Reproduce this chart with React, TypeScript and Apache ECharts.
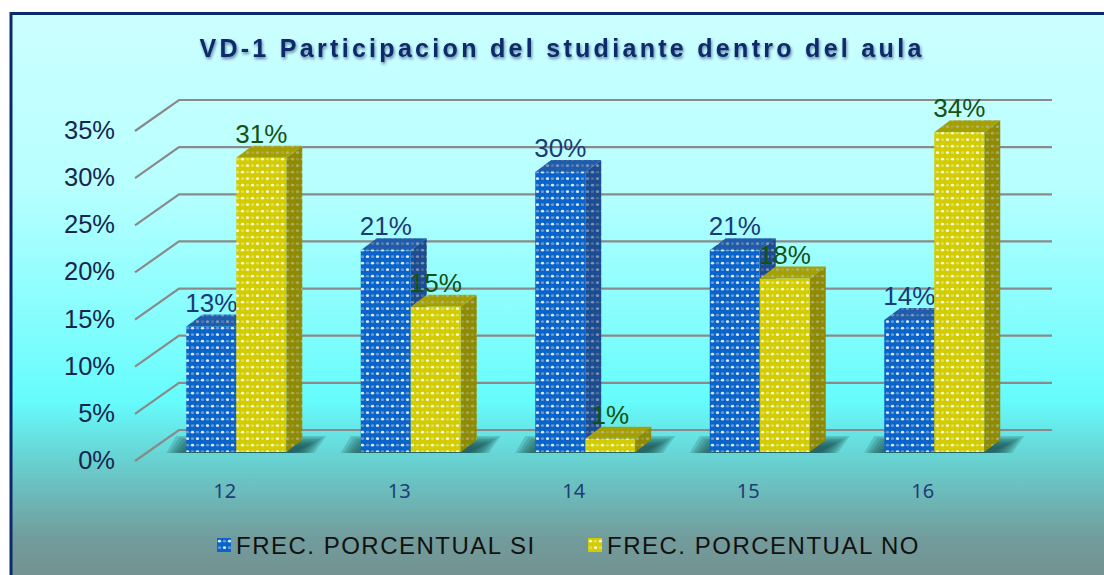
import React, { useEffect, useRef } from "react";
import * as echarts from "echarts";

const titleText = "VD-1 Participacion del studiante dentro del aula";
const edades = ["12", "13", "14", "15", "16"];
const frecSi = [13.3, 21.4, 29.7, 21.4, 14.0];
const frecNo = [31.2, 15.4, 1.4, 18.4, 33.9];
const yTicks = [0, 5, 10, 15, 20, 25, 30, 35];
const nameSi = "FREC. PORCENTUAL SI";
const nameNo = "FREC. PORCENTUAL NO";

function dotPattern(base: string, dot: string, faint: string) {
  const c = document.createElement("canvas");
  c.width = 10;
  c.height = 13;
  const g = c.getContext("2d")!;
  g.fillStyle = base;
  g.fillRect(0, 0, 10, 13);
  const draw = (pts: number[][], color: string) => {
    g.fillStyle = color;
    pts.forEach(([x, y]) => {
      g.beginPath();
      g.ellipse(x, y, 1.7, 1.4, 0, 0, Math.PI * 2);
      g.fill();
    });
  };
  draw([[7.5, 3.2], [2.5, 9.7]], faint);
  draw([[2.5, 3.2], [7.5, 9.7]], dot);
  return { image: c, repeat: "repeat" } as any;
}

export default function App() {
  const ref = useRef<HTMLDivElement>(null);
  useEffect(() => {
    const chart = echarts.init(ref.current!, undefined, { renderer: "svg" });
    const WHITE = "rgba(255,255,255,0.85)";
    const FAINT = "rgba(255,255,255,0.35)";
    const GREYDOT = "rgba(190,190,190,0.6)";
    const GREYFAINT = "rgba(190,190,190,0.3)";
    const blue = {
      front: dotPattern("#0a63c8", WHITE, FAINT),
      top: dotPattern("#1f5cab", GREYDOT, GREYFAINT),
      side: dotPattern("#1b4b90", GREYDOT, GREYFAINT),
      label: "#1c3a78",
    };
    const yellow = {
      front: dotPattern("#d2cc00", WHITE, FAINT),
      top: dotPattern("#a3a000", GREYDOT, GREYFAINT),
      side: dotPattern("#8f8b00", GREYDOT, GREYFAINT),
      label: "#145214",
    };

    const OFF_X = 13, OFF_Y = -8, DX = 16, DY = -12, W = 50;

    const barRender = (pal: any, slot: number) => (_: any, api: any) => {
      const idx = api.value(0);
      const v = api.value(1);
      const [cx, yTop] = api.coord([idx, v]);
      const [, yBase] = api.coord([idx, 0]);
      const x0 = cx + OFF_X + slot * W;
      const x1 = x0 + W;
      const t = yTop + OFF_Y;
      const b = yBase + OFF_Y;
      return {
        type: "group",
        children: [
          { type: "polygon", shape: { points: [[x1, t], [x1 + DX, t + DY], [x1 + DX, b + DY], [x1, b]] }, style: { fill: pal.side } },
          { type: "polygon", shape: { points: [[x0, t], [x0 + DX, t + DY], [x1 + DX, t + DY], [x1, t]] }, style: { fill: pal.top } },
          { type: "rect", shape: { x: x0, y: t, width: W, height: b - t }, style: { fill: pal.front } },
          {
            type: "text",
            style: {
              text: Math.round(v) + "%",
              x: (x0 + x1) / 2,
              y: t + DY - 12,
              align: "center",
              verticalAlign: "middle",
              fill: pal.label,
              font: "26px 'Liberation Sans', Arial, sans-serif",
            },
          },
        ],
      };
    };

    const shadowRender = (_: any, api: any) => {
      const idx = api.value(0);
      const [cx, yBase] = api.coord([idx, 0]);
      const y = yBase + OFF_Y + 1;
      const l = cx + OFF_X - W;
      const r = cx + OFF_X + W + DX;
      const layers = [0, 1, 2, 3, 4, 5, 6, 7];
      return {
        type: "group",
        children: layers.map((k) => {
          const grow = 24 - k * 3;
          const top = y - 17 + k * 1.5;
          return {
            type: "polygon",
            shape: { points: [[l - grow + 4, y], [l - grow + 14, top], [r + grow, top], [r + grow - 12, y]] },
            style: { fill: "rgba(25,80,80,0.2)" },
          };
        }),
      };
    };

    const gridRender = (params: any, api: any) => {
      const v = api.value(1);
      const [, y] = api.coord([0, v]);
      const left = params.coordSys.x - 1;
      return {
        type: "polyline",
        shape: { points: [[left, y + 1], [left + 44, y - 30], [1052, y - 30]] },
        style: { stroke: "#8a8a8a", lineWidth: 2.2, fill: "none" },
      };
    };

    chart.setOption({
      animation: false,
      title: {
        text: titleText,
        left: 557,
        top: 30,
        textAlign: "center",
        textStyle: {
          fontFamily: "'Liberation Sans', Arial, sans-serif",
          fontWeight: "bold",
          fontSize: 25,
          color: "#0f2a6b",
          textShadowColor: "rgba(10,30,90,0.55)",
          textShadowBlur: 3,
          textShadowOffsetX: 1,
          textShadowOffsetY: 2,
        },
      },
      graphic: [
        {
          type: "rect",
          z: -10,
          silent: true,
          shape: { x: 11, y: 13.5, width: 1100, height: 570 },
          style: {
            stroke: "#0b2a6b",
            lineWidth: 3,
            fill: new echarts.graphic.LinearGradient(0, 0, 0, 1, [
              { offset: 0, color: "#ccffff" },
              { offset: 0.3, color: "#b8ffff" },
              { offset: 0.68, color: "#66fcfc" },
              { offset: 0.78, color: "#68d2d2" },
              { offset: 0.92, color: "#729c9c" },
              { offset: 1, color: "#74908f" },
            ]),
          },
        },
      ],
      grid: { left: 136, top: 130, width: 872.5, height: 330, containLabel: false },
      xAxis: {
        type: "category",
        data: edades,
        axisLine: { show: false },
        axisTick: { show: false },
        axisLabel: { margin: 20, padding: [0, 0, 0, 3], fontFamily: "'Noto Sans', sans-serif", fontSize: 20, color: "#1f3c78" },
      },
      yAxis: {
        type: "value",
        min: 0,
        max: 35,
        interval: 5,
        splitLine: { show: false },
        axisLine: { show: false },
        axisTick: { show: false },
        axisLabel: {
          margin: 21,
          formatter: "{value}%",
          fontFamily: "'Liberation Sans', Arial, sans-serif",
          fontSize: 25.5,
          color: "#16264f",
        },
      },
      legend: {
        data: [nameSi, nameNo],
        left: 212,
        top: 528,
        icon: "rect",
        itemWidth: 14,
        itemHeight: 14,
        itemGap: 80,
        textStyle: { fontFamily: "'Liberation Sans', Arial, sans-serif", fontSize: 24, color: "#111" },
      },
      series: [
        {
          type: "custom",
          name: "rejilla",
          silent: true,
          clip: false,
          z: 1,
          renderItem: gridRender,
          encode: { x: 0, y: 1 },
          data: yTicks.map((t) => [0, t]),
        },
        {
          type: "custom",
          name: "sombra",
          silent: true,
          clip: false,
          z: 2,
          renderItem: shadowRender,
          encode: { x: 0, y: 1 },
          data: edades.map((_, i) => [i, 0]),
        },
        {
          type: "custom",
          name: nameSi,
          clip: false,
          z: 3,
          itemStyle: { color: blue.front },
          renderItem: barRender(blue, -1),
          encode: { x: 0, y: 1 },
          data: frecSi.map((v, i) => [i, v]),
        },
        {
          type: "custom",
          name: nameNo,
          clip: false,
          z: 4,
          itemStyle: { color: yellow.front },
          renderItem: barRender(yellow, 0),
          encode: { x: 0, y: 1 },
          data: frecNo.map((v, i) => [i, v]),
        },
      ],
    });
    return () => chart.dispose();
  }, []);
  return (
    <>
      <style>{`body{margin:0;background:#fff}
.vd svg text[style*="bold"]{letter-spacing:3.3px}
.vd svg text[style*="24px"]{letter-spacing:1.5px}`}</style>
      <div className="vd" ref={ref} style={{ position: "absolute", left: 0, top: 0, width: 1104, height: 575 }} />
    </>
  );
}
